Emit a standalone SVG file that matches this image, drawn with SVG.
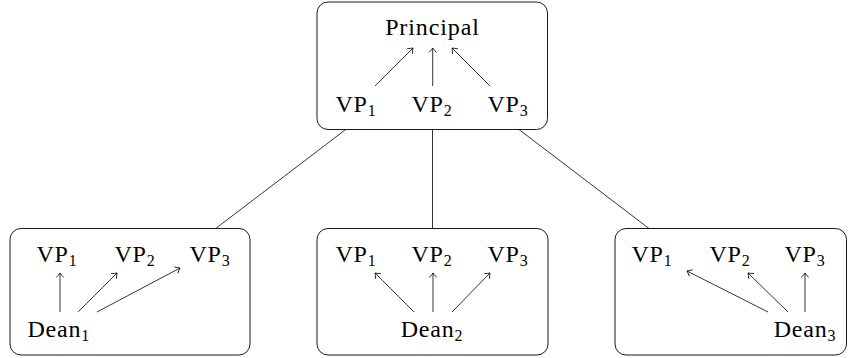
<svg xmlns="http://www.w3.org/2000/svg" width="848" height="358" viewBox="0 0 848 358">
<style>
.box{fill:#fff;stroke:#000;stroke-width:0.9}
.c{stroke:#000;stroke-width:0.8;fill:none}
.a{stroke:#000;stroke-width:0.8;fill:none;marker-end:url(#ah)}
</style>
<defs>
<marker id="ah" markerUnits="userSpaceOnUse" markerWidth="10" markerHeight="10" viewBox="-6 -5 7 10" refX="0" refY="0" orient="auto">
<path d="M-4.2,-3.4 Q-1.5,-0.9 0,0 Q-1.5,0.9 -4.2,3.4" stroke="#000" stroke-width="0.8" fill="none" stroke-linecap="round"/>
</marker>
</defs>
<g id="connectors">
<line class="c" x1="345.7" y1="129.5" x2="215.7" y2="228.5"/>
<line class="c" x1="432.5" y1="129.5" x2="432.5" y2="228.5"/>
<line class="c" x1="519" y1="129.5" x2="649" y2="228.5"/>
</g>
<g font-family="Liberation Serif, Times New Roman, serif" font-size="24" text-anchor="middle" fill="#000">
<g id="principal-node">
<rect class="box" x="317" y="2" width="230.5" height="127.5" rx="11"/>
<text x="432.5" y="35" letter-spacing="0.9">Principal</text>
<text x="356" y="112" letter-spacing="0.8">VP<tspan font-size="16" dy="3.5">1</tspan></text>
<text x="432" y="112" letter-spacing="0.8">VP<tspan font-size="16" dy="3.5">2</tspan></text>
<text x="508" y="112" letter-spacing="0.8">VP<tspan font-size="16" dy="3.5">3</tspan></text>
<line class="a" x1="375" y1="86" x2="413" y2="48"/>
<line class="a" x1="432.7" y1="86" x2="432.7" y2="48"/>
<line class="a" x1="490" y1="86" x2="452" y2="48"/>
</g>
<g id="dean1-node">
<rect class="box" x="10" y="228.5" width="240" height="126.5" rx="11"/>
<text x="57" y="262" letter-spacing="0.8">VP<tspan font-size="16" dy="3.5">1</tspan></text>
<text x="135" y="262" letter-spacing="0.8">VP<tspan font-size="16" dy="3.5">2</tspan></text>
<text x="210" y="262" letter-spacing="0.8">VP<tspan font-size="16" dy="3.5">3</tspan></text>
<text x="58.8" y="337" letter-spacing="0.8">Dean<tspan font-size="16" dy="3.5">1</tspan></text>
<line class="a" x1="60" y1="312" x2="60" y2="273"/>
<line class="a" x1="78" y1="312" x2="117" y2="273"/>
<line class="a" x1="97" y1="312" x2="180" y2="268"/>
</g>
<g id="dean2-node">
<rect class="box" x="317" y="228.5" width="231" height="126.5" rx="11"/>
<text x="356" y="262" letter-spacing="0.8">VP<tspan font-size="16" dy="3.5">1</tspan></text>
<text x="432" y="262" letter-spacing="0.8">VP<tspan font-size="16" dy="3.5">2</tspan></text>
<text x="508" y="262" letter-spacing="0.8">VP<tspan font-size="16" dy="3.5">3</tspan></text>
<text x="432" y="337" letter-spacing="0.8">Dean<tspan font-size="16" dy="3.5">2</tspan></text>
<line class="a" x1="414" y1="312" x2="375" y2="273"/>
<line class="a" x1="433" y1="312" x2="433" y2="273"/>
<line class="a" x1="452" y1="312" x2="490" y2="273"/>
</g>
<g id="dean3-node">
<rect class="box" x="615" y="228.5" width="231.5" height="126.5" rx="11"/>
<text x="652" y="262" letter-spacing="0.8">VP<tspan font-size="16" dy="3.5">1</tspan></text>
<text x="730" y="262" letter-spacing="0.8">VP<tspan font-size="16" dy="3.5">2</tspan></text>
<text x="805" y="262" letter-spacing="0.8">VP<tspan font-size="16" dy="3.5">3</tspan></text>
<text x="805" y="337" letter-spacing="0.8">Dean<tspan font-size="16" dy="3.5">3</tspan></text>
<line class="a" x1="768" y1="312" x2="687" y2="271"/>
<line class="a" x1="788" y1="312" x2="748" y2="273"/>
<line class="a" x1="805" y1="312" x2="805" y2="273"/>
</g>
</g>
</svg>
